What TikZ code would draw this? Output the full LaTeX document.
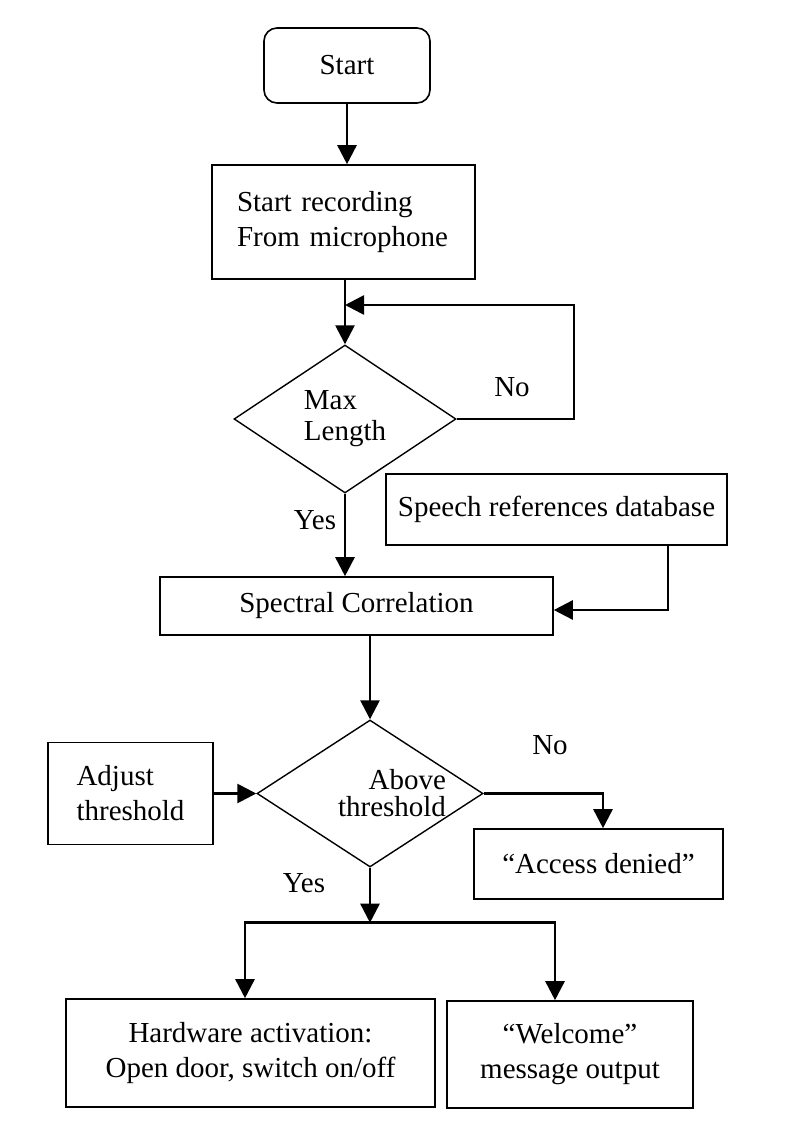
\documentclass[tikz,border=0pt]{standalone}
\usepackage{fontspec}
\setmainfont{Liberation Serif}
\usetikzlibrary{shapes.geometric,arrows.meta}

\tikzset{
  box node/.style={draw,rectangle,line width=1.6pt,inner sep=0pt,align=center},
  end node/.style={box node,rounded corners=13pt},
  test node/.style={draw,diamond,line width=1.4pt,inner sep=0pt,align=left},
}

\begin{document}
\begin{tikzpicture}[->,>={Triangle[length=19pt,width=19pt]},line width=2.6pt,x=1pt,y=-1pt,font=\fontsize{29}{35}\selectfont]
    \useasboundingbox (0,0) rectangle (800,1138);

    \node[end node,minimum width=166pt,minimum height=75pt] (start) at (347,65.5) {Start};
    \node[box node,align=left,text width=213pt,inner xsep=25pt,minimum height=114pt] (rec) [below of=start,node distance=156.5pt,xshift=-3.5pt] {Start recording\\From microphone};
    \node[test node,minimum width=222pt,minimum height=148pt,font=\fontsize{29}{31}\selectfont] (maxlen) [below of=rec,node distance=197pt,xshift=1.5pt] {Max\\Length};
    \node[box node,minimum width=393pt,minimum height=58pt] (spec) [below of=maxlen,node distance=187pt,xshift=11.5pt] {Spectral Correlation};
    \node[box node,minimum width=341pt,minimum height=71pt] (speech) [above of=spec,node distance=96.5pt,xshift=200pt] {Speech references database};
    \node[test node,minimum width=226pt,minimum height=147pt,label={[align=right,xshift=22pt,font=\fontsize{29}{27}\selectfont]center:Above\\threshold}] (thr) [below of=spec,node distance=187.5pt,xshift=13.5pt] {};
    \node[box node,align=left,minimum width=165pt,minimum height=102pt] (adjust) [left of=thr,node distance=239.5pt] {Adjust\\threshold};
    \node[box node,minimum width=249pt,minimum height=70pt] (denied) [right of=thr,node distance=228.5pt,yshift=-70.5pt] {“Access denied”};
    \node[box node,minimum width=369pt,minimum height=108pt] (hw) [below of=thr,node distance=259.5pt,xshift=-119.5pt] {Hardware activation:\\Open door, switch on/off};
    \node[box node,minimum width=246pt,minimum height=107pt] (welcome) [right of=hw,node distance=319.5pt,yshift=-1.5pt] {“Welcome”\\message output};

    \coordinate (nocorner) at (574,305);
    \coordinate (split) at ([yshift=-55pt]thr.south);

    \node (no1) at (512,387) {No};
    \node (yes1) at (315,520) {Yes};
    \node (no2) at (550,745) {No};
    \node (yes2) at (304,883) {Yes};

    \path
        (start) edge (start |- rec.north)
        (maxlen.north |- rec.south) edge (maxlen.north)
        (maxlen.south) edge (maxlen.south |- spec.north)
        (thr.north |- spec.south) edge (thr.north)
        (adjust) edge (thr)
        (thr.south) edge (split)
    ;
    \draw (maxlen.east) -| (nocorner) -- (nocorner -| maxlen.north);
    \draw ([xshift=-60pt]speech.south east) |- ([yshift=-4pt]spec.east);
    \draw (thr.east) -| ([xshift=4.5pt]denied.north);
    \draw (split) -| ([xshift=-5.5pt]hw.north);
    \draw (split) -| ([xshift=-15pt]welcome.north);

\end{tikzpicture}
\end{document}
